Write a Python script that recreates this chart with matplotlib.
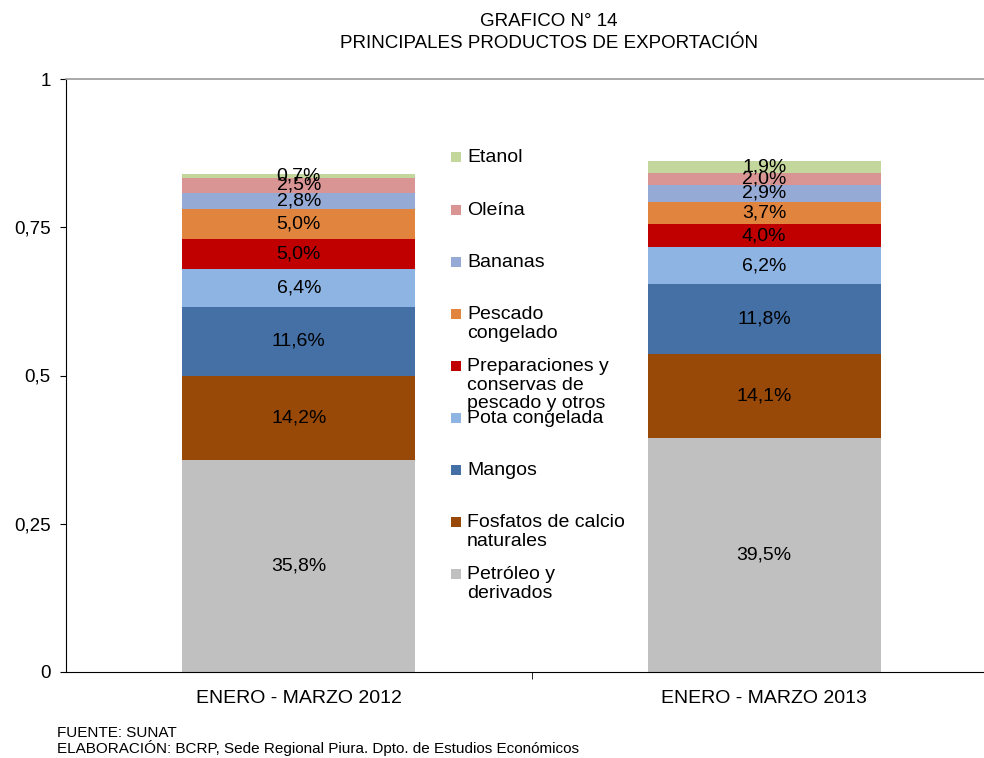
import matplotlib
matplotlib.use("Agg")
import matplotlib.pyplot as plt
import numpy as np
from matplotlib.patches import Rectangle

plt.rcParams['font.family'] = ['Liberation Sans', 'DejaVu Sans']

categories = ["ENERO - MARZO 2012", "ENERO - MARZO 2013"]
series = ["Petróleo y\nderivados", "Fosfatos de calcio\nnaturales", "Mangos",
          "Pota congelada", "Preparaciones y\nconservas de\npescado y otros",
          "Pescado\ncongelado", "Bananas", "Oleína", "Etanol"]
values_2012 = [35.8, 14.2, 11.6, 6.4, 5.0, 5.0, 2.8, 2.5, 0.7]
values_2013 = [39.5, 14.1, 11.8, 6.2, 4.0, 3.7, 2.9, 2.0, 1.9]
labels_2012 = ["35,8%", "14,2%", "11,6%", "6,4%", "5,0%", "5,0%", "2,8%", "2,5%", "0,7%"]
labels_2013 = ["39,5%", "14,1%", "11,8%", "6,2%", "4,0%", "3,7%", "2,9%", "2,0%", "1,9%"]
colors = ["#C0C0C0", "#984807", "#4470A6", "#8EB4E3", "#C00000",
          "#E0843E", "#95AAD4", "#D99594", "#C3D69B"]
yticks = [0, 0.25, 0.5, 0.75, 1]
ytick_labels = ["0", "0,25", "0,5", "0,75", "1"]

W, H = 984, 758
fig = plt.figure(figsize=(W / 100, H / 100), dpi=100)
ax = fig.add_axes([66 / W, 1 - 672 / H, (997 - 66) / W, (672 - 79) / H])

x = np.arange(len(categories))
vals = np.array([values_2012, values_2013]) / 100.0
labs = [labels_2012, labels_2013]
bottoms = np.zeros(len(categories))
for i, s in enumerate(series):
    h = vals[:, i]
    ax.bar(x, h, width=0.5, bottom=bottoms, color=colors[i], edgecolor='none', zorder=2)
    for j in range(len(categories)):
        ax.text(x[j], bottoms[j] + h[j] / 2, labs[j][i], ha='center', va='center',
                fontsize=14, color='black', zorder=3)
    bottoms = bottoms + h

ax.set_xlim(-0.5, 1.5)
ax.set_ylim(0, 1)
ax.set_yticks(yticks)
ax.set_yticklabels(ytick_labels, fontsize=13.5)
ax.set_xticks(x)
ax.set_xticklabels(categories, fontsize=14)
ax.tick_params(axis='x', length=0, pad=13)
ax.tick_params(axis='y', length=4, direction='out', pad=7, color='black')
ax.set_xticks([0.5], minor=True)
ax.tick_params(axis='x', which='minor', length=5, direction='out', color='black')
ax.spines['right'].set_visible(False)
ax.spines['top'].set_color('#999999')
ax.spines['top'].set_linewidth(1.2)
ax.spines['left'].set_color('black')
ax.spines['bottom'].set_color('black')

# Legend drawn manually to mimic the original placement (incl. its overlap)
leg_y = [574, 522, 470, 418, 366, 314, 262, 210, 157]
for i, s in enumerate(series):
    yp = leg_y[i]
    fy = 1 - yp / H
    fig.patches.append(Rectangle((451 / W, fy - 5 / H), 10 / W, 10 / H,
                                 transform=fig.transFigure, facecolor=colors[i],
                                 edgecolor='none', zorder=5))
    fig.text(467 / W, fy + 8 / H, s, ha='left', va='top', fontsize=14,
             linespacing=1.12, zorder=6)

fig.text(549 / W, 1 - 21 / H, "GRAFICO N° 14", ha='center', va='center', fontsize=13.5)
fig.text(549 / W, 1 - 43 / H, "PRINCIPALES PRODUCTOS DE EXPORTACIÓN", ha='center',
         va='center', fontsize=13.5)
fig.text(57 / W, 1 - 733 / H, "FUENTE: SUNAT", ha='left', va='center', fontsize=11)
fig.text(57 / W, 1 - 748 / H,
         "ELABORACIÓN: BCRP, Sede Regional Piura. Dpto. de Estudios Económicos",
         ha='left', va='center', fontsize=11)

fig.savefig("out.png", dpi=100)
